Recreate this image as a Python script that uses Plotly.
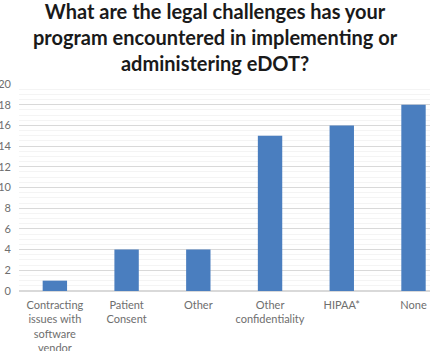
import plotly.graph_objects as go

categories = ["Contracting<br>issues with<br>software<br>vendor", "Patient<br>Consent", "Other",
              "Other<br>confidentiality", "HIPAA*", "None"]
values = [1, 4, 4, 15, 16, 18]
y_ticks = list(range(0, 21, 2))
title_text = "What are the legal challenges has your<br>program encountered in implementing or<br>administering eDOT?"

plot_h = 351 - 84 - 60

fig = go.Figure(go.Bar(x=list(range(len(categories))), y=values, width=0.34,
                       marker=dict(color="#4a7ebf", line=dict(width=0))))

fig.update_layout(
    width=430, height=351,
    margin=dict(l=19, r=0, t=84, b=60, autoexpand=False),
    paper_bgcolor="white", plot_bgcolor="white",
    showlegend=False,
    font=dict(family="Lato", size=11, color="#6e6e6e"),
    annotations=[dict(text=title_text, xref="paper", yref="paper", x=(215 - 19) / 411,
                      y=1 + 87 / plot_h, xanchor="center", yanchor="top", showarrow=False,
                      font=dict(family="Lato", size=20, color="#1a1a1a", weight="bold"))],
)
fig.update_xaxes(tickmode="array", tickvals=list(range(len(categories))), ticktext=categories,
                 range=[-0.5, 5.23], showgrid=False, zeroline=False, showline=False,
                 automargin=False,
                 ticks="", ticklabelstandoff=6, tickfont=dict(size=11, color="#6e6e6e"))
fig.update_yaxes(range=[0, 20], tickvals=y_ticks, showgrid=True, gridcolor="#d9d9d9",
                 zeroline=True, zerolinecolor="#d9d9d9", ticks="", showline=False,
                 ticklabelstandoff=7, automargin=False,
                 minor=dict(dtick=0.5, showgrid=True, gridcolor="#f4f4f4"),
                 tickfont=dict(size=11, color="#6e6e6e"))

fig.write_html("out.html")
